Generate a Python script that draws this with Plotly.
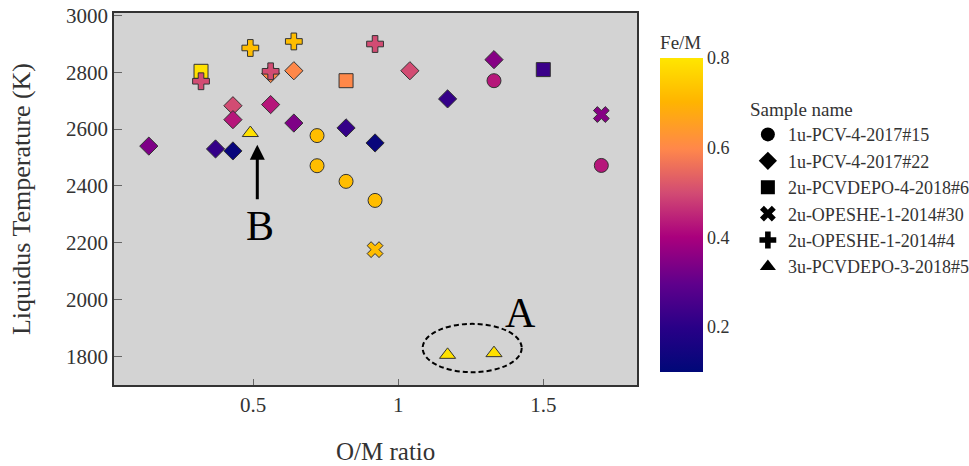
import plotly.graph_objects as go

# ---------------- data ----------------
series_names = ["1u-PCV-4-2017#15", "1u-PCV-4-2017#22", "2u-PCVDEPO-4-2018#6",
                "2u-OPESHE-1-2014#30", "2u-OPESHE-1-2014#4", "3u-PCVDEPO-3-2018#5"]
series_symbols = ["circle", "diamond", "square", "x", "cross", "triangle-up"]

circle_x = [0.72, 0.72, 0.82, 0.92, 1.33, 1.70]
circle_y = [2577, 2471, 2416, 2349, 2770, 2472]
circle_fe = [0.72, 0.72, 0.72, 0.72, 0.43, 0.43]

diamond_x = [0.14, 0.37, 0.43, 0.43, 0.43, 0.56, 0.56, 0.64, 0.64, 0.82, 0.92, 1.04, 1.17, 1.33]
diamond_y = [2540, 2530, 2523, 2682, 2633, 2686, 2795, 2805, 2621, 2604, 2551, 2805, 2706, 2844]
diamond_fe = [0.34, 0.22, 0.12, 0.50, 0.43, 0.43, 0.60, 0.60, 0.34, 0.22, 0.12, 0.50, 0.22, 0.35]

square_x = [0.32, 0.82, 1.50]
square_y = [2803, 2770, 2809]
square_fe = [0.79, 0.60, 0.23]

xmark_x = [0.92, 1.70]
xmark_y = [2176, 2651]
xmark_fe = [0.72, 0.35]

plus_x = [0.32, 0.49, 0.56, 0.64, 0.92]
plus_y = [2768, 2885, 2803, 2908, 2899]
plus_fe = [0.50, 0.72, 0.50, 0.72, 0.50]

tri_x = [0.49, 1.17, 1.33]
tri_y = [2586, 1806, 1812]
tri_fe = [0.79, 0.79, 0.79]

x_tickvals = [0.5, 1, 1.5]
x_ticktext = ["0.5", "1", "1.5"]
y_tickvals = [1800, 2000, 2200, 2400, 2600, 2800, 3000]
cbar_tickvals = [0.2, 0.4, 0.6, 0.8]

# ---------------- styling ----------------
FONT = "Liberation Serif, Times New Roman, serif"
colorscale = [
    [0.00, "rgb(0,8,120)"],
    [0.14, "rgb(40,0,135)"],
    [0.28, "rgb(95,0,140)"],
    [0.43, "rgb(170,0,125)"],
    [0.57, "rgb(210,75,115)"],
    [0.71, "rgb(255,135,75)"],
    [0.86, "rgb(255,180,0)"],
    [1.00, "rgb(255,230,0)"],
]

fig = go.Figure()

all_series = [
    (circle_x, circle_y, circle_fe),
    (diamond_x, diamond_y, diamond_fe),
    (square_x, square_y, square_fe),
    (xmark_x, xmark_y, xmark_fe),
    (plus_x, plus_y, plus_fe),
    (tri_x, tri_y, tri_fe),
]

for (xs, ys, fe), name, sym in zip(all_series, series_names, series_symbols):
    fig.add_trace(go.Scatter(
        x=xs, y=ys, mode="markers", name=name, showlegend=False,
        marker=dict(symbol=sym, size=14, color=fe, coloraxis="coloraxis",
                    line=dict(color="#333333", width=1)),
    ))

# legend-only entries (black symbols)
for name, sym in zip(series_names, series_symbols):
    fig.add_trace(go.Scatter(
        x=[None], y=[None], mode="markers", name=name, showlegend=True,
        marker=dict(symbol=sym, size=14, color="black"),
    ))

# ellipse around group A
fig.add_shape(type="circle", xref="x", yref="y",
              x0=1.084, x1=1.4255, y0=1745, y1=1915,
              line=dict(color="black", width=2, dash="5px,3px"))

fig.add_annotation(x=1.422, y=1953, text="A", showarrow=False,
                   font=dict(family=FONT, size=42, color="black"))
fig.add_annotation(x=0.523, y=2258, text="B", showarrow=False,
                   font=dict(family=FONT, size=42, color="black"))
fig.add_annotation(x=0.514, y=2545, ax=0.514, ay=2348, axref="x", ayref="y",
                   xref="x", yref="y", text="", showarrow=True,
                   arrowhead=2, arrowsize=1, arrowwidth=3, arrowcolor="black")

# x-axis title
fig.add_annotation(x=0.52, y=-0.18, xref="paper", yref="paper", text="O/M ratio",
                   showarrow=False, xanchor="center", yanchor="middle",
                   font=dict(family=FONT, size=25, color="#333333"))

fig.update_layout(
    width=969, height=466,
    margin=dict(l=114, r=332, t=13, b=81, autoexpand=False),
    paper_bgcolor="white", plot_bgcolor="#d3d3d3",
    font=dict(family=FONT, color="#333333"),
    coloraxis=dict(
        cmin=0.1, cmax=0.8, colorscale=colorscale,
        colorbar=dict(
            title=dict(text="Fe/M", side="top", font=dict(family=FONT, size=19, color="#333333")),
            tickvals=cbar_tickvals, ticks="", outlinewidth=0,
            tickfont=dict(family=FONT, size=18, color="#333333"),
            thickness=43, len=0.967, lenmode="fraction",
            x=1.025, xanchor="left", y=0.492, yanchor="middle",
        ),
    ),
    legend=dict(
        title=dict(text="Sample name", font=dict(family=FONT, size=19, color="#333333")),
        font=dict(family=FONT, size=18, color="#333333"),
        x=1.212, xanchor="left", y=0.789, yanchor="top",
        bgcolor="rgba(0,0,0,0)",
    ),
    xaxis=dict(
        range=[0.02, 1.823], tickvals=x_tickvals, ticktext=x_ticktext,
        ticks="inside", ticklen=6, tickcolor="#666666", tickwidth=1,
        showgrid=False, zeroline=False,
        showline=True, linecolor="#333333", linewidth=1.5, mirror=True,
        tickfont=dict(family=FONT, size=21, color="#333333"),
    ),
    yaxis=dict(
        range=[1700, 3008], tickvals=y_tickvals,
        ticks="inside", ticklen=8, tickcolor="#666666", tickwidth=1,
        showgrid=False, zeroline=False,
        showline=True, linecolor="#333333", linewidth=1.5, mirror=True,
        tickfont=dict(family=FONT, size=21, color="#333333"),
        title=dict(text="Liquidus Temperature (K)", font=dict(family=FONT, size=26, color="#333333"), standoff=28),
    ),
)

fig.write_html("out.html")
